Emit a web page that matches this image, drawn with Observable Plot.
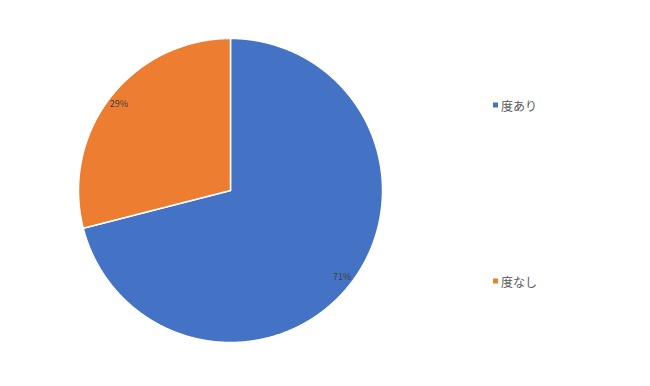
<!DOCTYPE html>
<html>
<head>
<meta charset="utf-8">
<script src="https://cdn.jsdelivr.net/npm/d3@7"></script>
<script src="https://cdn.jsdelivr.net/npm/@observablehq/plot@0.6"></script>
<style>
  html, body { margin: 0; padding: 0; background: #fff; }
  #chart { position: relative; width: 650px; height: 386px; font-family: "Noto Sans CJK JP", "Noto Sans", sans-serif; }
  #legend { position: absolute; left: 0; top: 0; width: 650px; height: 386px; pointer-events: none; }
  .item { position: absolute; left: 493px; display: flex; align-items: center; font-size: 12px; color: #595959; transform: translateY(-50%); }
  .swatch { width: 5px; height: 5px; margin-right: 3px; }
</style>
</head>
<body>
<div id="chart"></div>
<script>
// Share of respondents by category
const categories = ["度あり", "度なし"];
const values = [71, 29];
const colors = ["#4472C4", "#ED7D31"];

const total = d3.sum(values);
const arcs = d3.pie().sort(null)(values);

// Each slice as a closed polygon in unit-circle coordinates (y up, angle 0 at 12 o'clock, clockwise)
const slices = arcs.flatMap((a, i) => {
  const cat = categories[i];
  const n = Math.max(2, Math.ceil((a.endAngle - a.startAngle) / 0.005));
  const pts = [{cat, x: 0, y: 0}];
  for (let k = 0; k <= n; ++k) {
    const t = a.startAngle + (a.endAngle - a.startAngle) * k / n;
    pts.push({cat, x: Math.sin(t), y: Math.cos(t)});
  }
  return pts;
});

// Percentage labels placed near the rim at each slice's mid-angle
const labels = arcs.map((a, i) => {
  const t = (a.startAngle + a.endAngle) / 2;
  const r = 0.93;
  return {cat: categories[i], x: r * Math.sin(t), y: r * Math.cos(t), text: Math.round(values[i] / total * 100) + "%"};
});

const plot = Plot.plot({
  width: 650,
  height: 386,
  marginLeft: 78,
  marginRight: 268,
  marginTop: 38,
  marginBottom: 44,
  x: {domain: [-1, 1], axis: null},
  y: {domain: [-1, 1], axis: null},
  color: {domain: categories, range: colors},
  style: {fontFamily: "'Noto Sans CJK JP', 'Noto Sans', sans-serif", background: "#fff"},
  marks: [
    Plot.line(slices, {x: "x", y: "y", z: "cat", fill: "cat", stroke: "white", strokeWidth: 1.5, curve: "linear-closed"}),
    Plot.text(labels, {x: "x", y: "y", text: "text", fontSize: 9, fill: "#404040"})
  ]
});

const chart = document.getElementById("chart");
chart.appendChild(plot);

// Legend on the right, one entry per category
const legend = document.createElement("div");
legend.id = "legend";
const legendY = [105, 281];
categories.forEach((c, i) => {
  const item = document.createElement("div");
  item.className = "item";
  item.style.top = legendY[i] + "px";
  const sw = document.createElement("span");
  sw.className = "swatch";
  sw.style.background = colors[i];
  const label = document.createElement("span");
  label.textContent = c;
  item.appendChild(sw);
  item.appendChild(label);
  legend.appendChild(item);
});
chart.appendChild(legend);
</script>
</body>
</html>
